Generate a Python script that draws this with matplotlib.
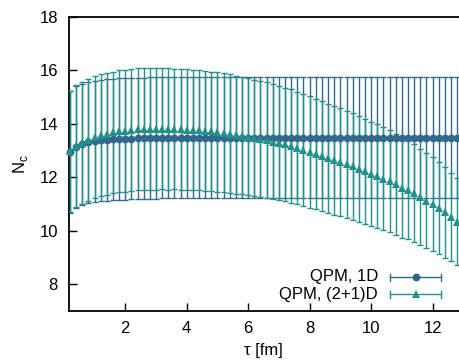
import matplotlib
matplotlib.use("Agg")
import matplotlib.pyplot as plt
from matplotlib.lines import Line2D
import numpy as np

plt.rcParams['font.family'] = ['Liberation Sans', 'DejaVu Sans']

tau = [round(0.2 * k, 1) for k in range(1, 65)]

nc_1d = [12.95, 13.14, 13.24, 13.31, 13.35, 13.38, 13.40, 13.42, 13.43, 13.44,
         13.45, 13.46, 13.46, 13.47, 13.47, 13.48, 13.48, 13.48, 13.48, 13.48,
         13.48, 13.48, 13.48, 13.48, 13.48, 13.48, 13.48, 13.48, 13.48, 13.48,
         13.48, 13.48, 13.48, 13.48, 13.48, 13.48, 13.48, 13.48, 13.48, 13.48,
         13.48, 13.48, 13.48, 13.48, 13.48, 13.48, 13.48, 13.48, 13.48, 13.48,
         13.48, 13.48, 13.48, 13.48, 13.48, 13.48, 13.48, 13.48, 13.48, 13.48,
         13.48, 13.48, 13.48, 13.48]
err_1d = [2.27] * 64

nc_2p1d = [12.97, 13.17, 13.30, 13.41, 13.50, 13.57, 13.63, 13.68, 13.72, 13.75,
           13.78, 13.80, 13.81, 13.82, 13.82, 13.82, 13.81, 13.81, 13.80, 13.79,
           13.78, 13.76, 13.74, 13.72, 13.70, 13.67, 13.64, 13.60, 13.56, 13.52,
           13.48, 13.44, 13.39, 13.34, 13.29, 13.23, 13.17, 13.10, 13.03,
           12.95, 12.87, 12.79, 12.71, 12.64, 12.56, 12.49, 12.41, 12.32, 12.23,
           12.14, 12.04, 11.95, 11.85, 11.74, 11.62, 11.54, 11.41, 11.27, 11.12,
           11.00, 10.85, 10.69, 10.52, 10.34]
err_2p1d = [2.28, 2.28, 2.28, 2.28, 2.28, 2.28, 2.28, 2.28, 2.28, 2.28,
            2.28, 2.28, 2.28, 2.28, 2.28,
            2.27, 2.27, 2.26, 2.26, 2.25, 2.25, 2.24, 2.24, 2.23, 2.23,
            2.22, 2.21, 2.21, 2.20, 2.19, 2.18, 2.17, 2.16, 2.15, 2.14,
            2.13, 2.12, 2.11, 2.10, 2.08, 2.07, 2.06, 2.05, 2.04, 2.02,
            2.01, 2.00, 1.98, 1.97, 1.95, 1.94, 1.92, 1.91, 1.89, 1.87,
            1.85, 1.83, 1.80, 1.78, 1.75, 1.72, 1.69, 1.66, 1.63]

labels = ["QPM, 1D", "QPM, (2+1)D"]
xticks = [2, 4, 6, 8, 10, 12]
yticks = [8, 10, 12, 14, 16, 18]

c_blue = '#31688e'
c_teal = '#21918c'

W, H = 459, 360
fig = plt.figure(figsize=(W / 100, H / 100), dpi=100)
ax = fig.add_axes([69 / W, 1 - 311 / H, 1 - 69 / W + 0.002, (311 - 17) / H])

ax.errorbar(tau, nc_1d, yerr=err_1d, fmt='none', ecolor=c_blue, elinewidth=1.0,
            capsize=2.4, capthick=1.0, zorder=2, clip_on=True)
ax.errorbar(tau, nc_2p1d, yerr=err_2p1d, fmt='none', ecolor=c_teal, elinewidth=1.0,
            capsize=2.4, capthick=1.0, zorder=3, clip_on=True)
ax.plot(tau, nc_1d, 'o', color=c_blue, markersize=5.6, markeredgewidth=0, zorder=4, clip_on=False)
ax.plot(tau, nc_2p1d, '^', color=c_teal, markersize=5.8, markeredgewidth=0, zorder=5, clip_on=False)

ax.set_xlim(0.17, 12.89)
ax.set_ylim(7, 18)
ax.set_xticks(xticks)
ax.set_yticks(yticks)
ax.tick_params(direction='in', length=6, width=1.0, labelsize=12, color='black')
ax.tick_params(axis='y', pad=8)
ax.tick_params(axis='x', pad=7)
for s in ['left', 'bottom', 'top']:
    ax.spines[s].set_linewidth(1.3)
ax.spines['right'].set_visible(False)

fig.text(20 / W, 1 - 164 / H, r'N$_\mathregular{c}$', rotation=90, ha='center', va='center', fontsize=12)
fig.text(263 / W, 1 - 350 / H, 'τ [fm]', ha='center', va='center', fontsize=12)

# manual legend (gnuplot style: text left, sample right)
rows = [(277, c_blue, 'o', labels[0], 5.6), (294, c_teal, '^', labels[1], 5.8)]
for yy, col, mk, lab, ms in rows:
    yf = 1 - yy / H
    fig.text(378 / W, yf, lab, ha='right', va='center', fontsize=12)
    fig.add_artist(Line2D([390 / W, 441 / W], [yf, yf], color=col, lw=1.0, transform=fig.transFigure))
    for xx in (390, 441):
        fig.add_artist(Line2D([xx / W, xx / W], [yf - 3.5 / H, yf + 3.5 / H], color=col, lw=1.0,
                              transform=fig.transFigure))
    fig.add_artist(Line2D([415.5 / W], [yf], marker=mk, color=col, markersize=ms, markeredgewidth=0,
                          transform=fig.transFigure))

fig.savefig('out.png', dpi=100)
